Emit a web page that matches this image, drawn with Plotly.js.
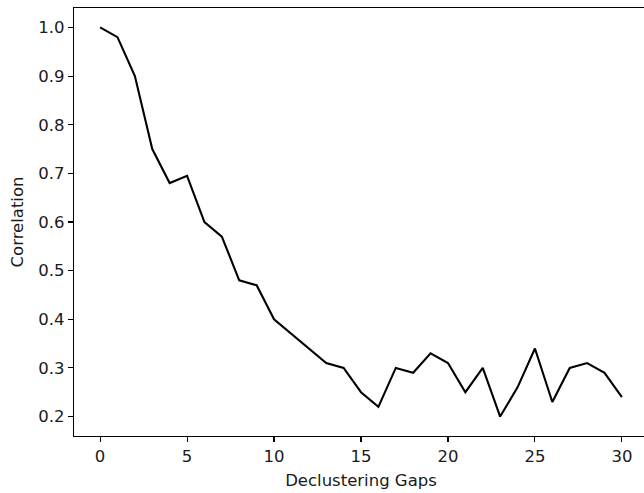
<!DOCTYPE html>
<html>
<head>
<meta charset="utf-8">
<script src="https://cdn.plot.ly/plotly-3.0.1.min.js"></script>
<style>
html, body { margin: 0; padding: 0; overflow: hidden; background: #fff; }
#chart { width: 652px; height: 493px; }
</style>
</head>
<body>
<div id="chart"></div>
<script>
const gaps = [0,1,2,3,4,5,6,7,8,9,10,11,12,13,14,15,16,17,18,19,20,21,22,23,24,25,26,27,28,29,30];
const correlation = [1.0,0.98,0.90,0.75,0.68,0.695,0.60,0.57,0.48,0.47,0.40,0.37,0.34,0.31,0.30,0.25,0.22,0.30,0.29,0.33,0.31,0.25,0.30,0.20,0.26,0.34,0.23,0.30,0.31,0.29,0.24];
const xTicks = [0,5,10,15,20,25,30];
const yTicks = [0.2,0.3,0.4,0.5,0.6,0.7,0.8,0.9,1.0];

const font = {family: 'DejaVu Sans, sans-serif', size: 16.5, color: '#1a1a1a'};

Plotly.newPlot('chart', [{
  x: gaps, y: correlation, type: 'scatter', mode: 'lines',
  line: {color: '#000', width: 2.1},
  hoverinfo: 'skip'
}], {
  width: 652, height: 493,
  margin: {l: 74, r: 4, t: 8, b: 57},
  paper_bgcolor: '#fff', plot_bgcolor: '#fff',
  showlegend: false,
  font: font,
  xaxis: {
    range: [-1.5, 31.5], tickvals: xTicks, ticktext: xTicks.map(String),
    showgrid: false, zeroline: false, showline: true, linecolor: '#000', linewidth: 1.1,
    mirror: true, ticks: 'outside', ticklen: 5, tickwidth: 1.1, tickcolor: '#000',
    tickfont: font, automargin: false,
    title: {text: 'Declustering Gaps', font: font, standoff: 9}
  },
  yaxis: {
    range: [0.16, 1.04], tickvals: yTicks, ticktext: yTicks.map(v => v.toFixed(1)),
    showgrid: false, zeroline: false, showline: true, linecolor: '#000', linewidth: 1.1,
    mirror: true, ticks: 'outside', ticklen: 5, tickwidth: 1.1, tickcolor: '#000',
    tickfont: font, automargin: false,
    title: {text: 'Correlation', font: font, standoff: 10}
  }
}, {displayModeBar: false, staticPlot: true});
</script>
</body>
</html>
